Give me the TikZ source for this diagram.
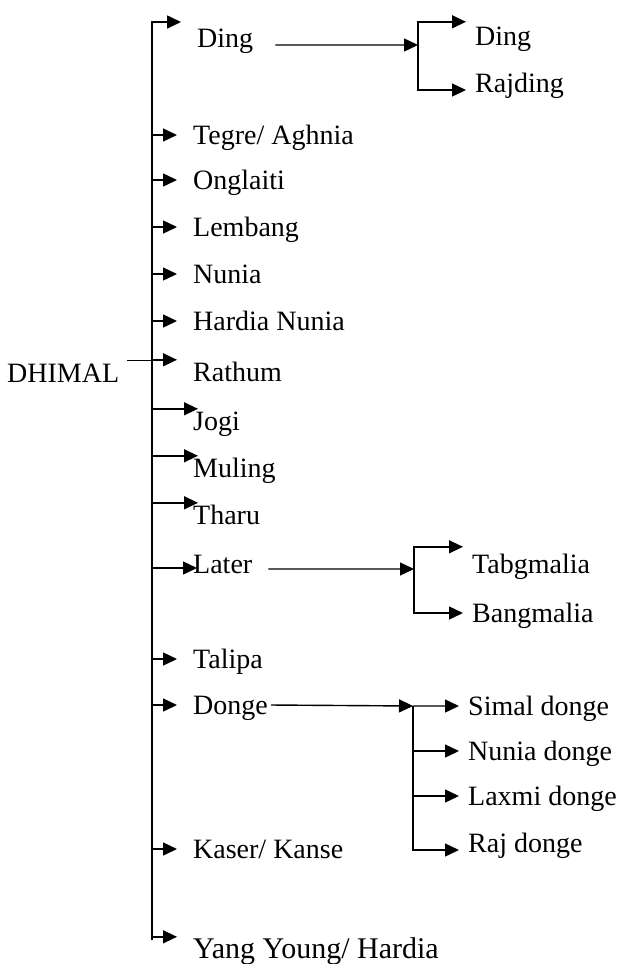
\documentclass[tikz,border=0pt]{standalone}
\usepackage{fontspec}
\setmainfont{Liberation Serif}
\usetikzlibrary{arrows.meta, positioning}
\tikzstyle{item} = [inner xsep=16bp, inner ysep=0pt, text height=21bp, text depth=3bp, anchor=base west, font=\fontsize{28bp}{34bp}\selectfont]
\tikzstyle{leaf} = [item, inner xsep=9bp]
\tikzstyle{arrow} = [line width=1.4bp, -{Triangle[length=14bp,width=13bp]}]
\tikzstyle{trunk} = [line width=1.8bp]
\tikzstyle{link} = [line width=0.9bp]

\begin{document}
\begin{tikzpicture}[x=1bp, y=-1bp]
    \useasboundingbox (0,0) rectangle (623,964);

    % Nodes
    \node (dhimal) [item, inner xsep=8bp] at (-1,382) {DHIMAL};
    \node (ding) [item] at (181,47) {Ding};
    \node (tegre) [item] at (177,144) {Tegre/ Aghnia};
    \node (onglaiti) [below=45bp of tegre.base west, item] {Onglaiti};
    \node (lembang) [below=47bp of onglaiti.base west, item] {Lembang};
    \node (nunia) [below=47bp of lembang.base west, item] {Nunia};
    \node (hardia) [below=47bp of nunia.base west, item] {Hardia Nunia};
    \node (rathum) [below=51bp of hardia.base west, item] {Rathum};
    \node (jogi) [below=49bp of rathum.base west, item] {Jogi};
    \node (muling) [below=47bp of jogi.base west, item] {Muling};
    \node (tharu) [below=47bp of muling.base west, item] {Tharu};
    \node (later) [below=49bp of tharu.base west, item] {Later};
    \node (talipa) [below=95bp of later.base west, item] {Talipa};
    \node (donge) [below=46bp of talipa.base west, item] {Donge};
    \node (kaser) [below=144bp of donge.base west, item] {Kaser/ Kanse};
    \node (yang) [below=100bp of kaser.base west, item, font=\fontsize{30bp}{36bp}\selectfont] {Yang Young/ Hardia};

    % Sub-groups
    \node (dingsub) [leaf] at (466,45) {Ding};
    \node (rajding) [below=47bp of dingsub.base west, leaf] {Rajding};
    \node (tabg) [leaf] at (463,573) {Tabgmalia};
    \node (bangm) [below=49bp of tabg.base west, leaf] {Bangmalia};
    \node (simal) [leaf] at (459,715) {Simal donge};
    \node (nuniad) [below=45bp of simal.base west, leaf] {Nunia donge};
    \node (laxmi) [below=45bp of nuniad.base west, leaf] {Laxmi donge};
    \node (raj) [below=47bp of laxmi.base west, leaf] {Raj donge};

    % Forks
    \coordinate (trunk) at (152,22);
    \coordinate (trunkend) at (152,940);
    \coordinate (dingfork) at (418,45);
    \coordinate (laterfork) at (414,569);
    \coordinate (dongefork) at (413,706);
    \coordinate (latertip) at ([xshift=20bp,yshift=5bp]later.base west);

    % Arrows
    \draw [arrow, line width=1.7bp] (trunkend) -- (trunk) -- (trunk -| ding.west);
    \draw [link] (dhimal.north east) -- (trunk |- dhimal.north east);
    \draw [arrow] (trunk |- tegre.west) -- (tegre.west);
    \draw [arrow] (trunk |- onglaiti.west) -- (onglaiti.west);
    \draw [arrow] (trunk |- lembang.west) -- (lembang.west);
    \draw [arrow] (trunk |- nunia.west) -- (nunia.west);
    \draw [arrow] (trunk |- hardia.west) -- (hardia.west);
    \draw [arrow] (trunk |- rathum.north west) -- (rathum.north west);
    \draw [arrow] (trunk |- jogi.north west) -- ([xshift=21bp]jogi.north west);
    \draw [arrow] (trunk |- muling.north west) -- ([xshift=21bp]muling.north west);
    \draw [arrow] (trunk |- tharu.north west) -- ([xshift=21bp]tharu.north west);
    \draw [arrow] (trunk |- latertip) -- (latertip);
    \draw [arrow] (trunk |- talipa.west) -- (talipa.west);
    \draw [arrow] (trunk |- donge.west) -- (donge.west);
    \draw [arrow] (trunk |- kaser.west) -- (kaser.west);
    \draw [arrow] (trunk |- yang.north west) -- (yang.north west);

    \draw [arrow] ([xshift=6bp,yshift=2bp]ding.base east) -- (dingfork);
    \draw [arrow] (dingfork) |- ([yshift=2bp]dingsub.north west);
    \draw [arrow] (dingfork) |- ([yshift=2bp]rajding.base west);

    \draw [arrow] ([yshift=4bp]later.base east) -- (laterfork);
    \draw [arrow] (laterfork) |- ([yshift=5bp]tabg.north west);
    \draw [arrow] (laterfork) |- (bangm.west);

    \draw [arrow] ([xshift=-13bp]donge.east) -- (dongefork);
    \draw [arrow] (dongefork) -- (simal.west);
    \draw [arrow] (dongefork |- nuniad.west) -- (nuniad.west);
    \draw [arrow] (dongefork |- laxmi.west) -- (laxmi.west);
    \draw [arrow] (dongefork) |- ([yshift=2bp]raj.base west);
\end{tikzpicture}
\end{document}
